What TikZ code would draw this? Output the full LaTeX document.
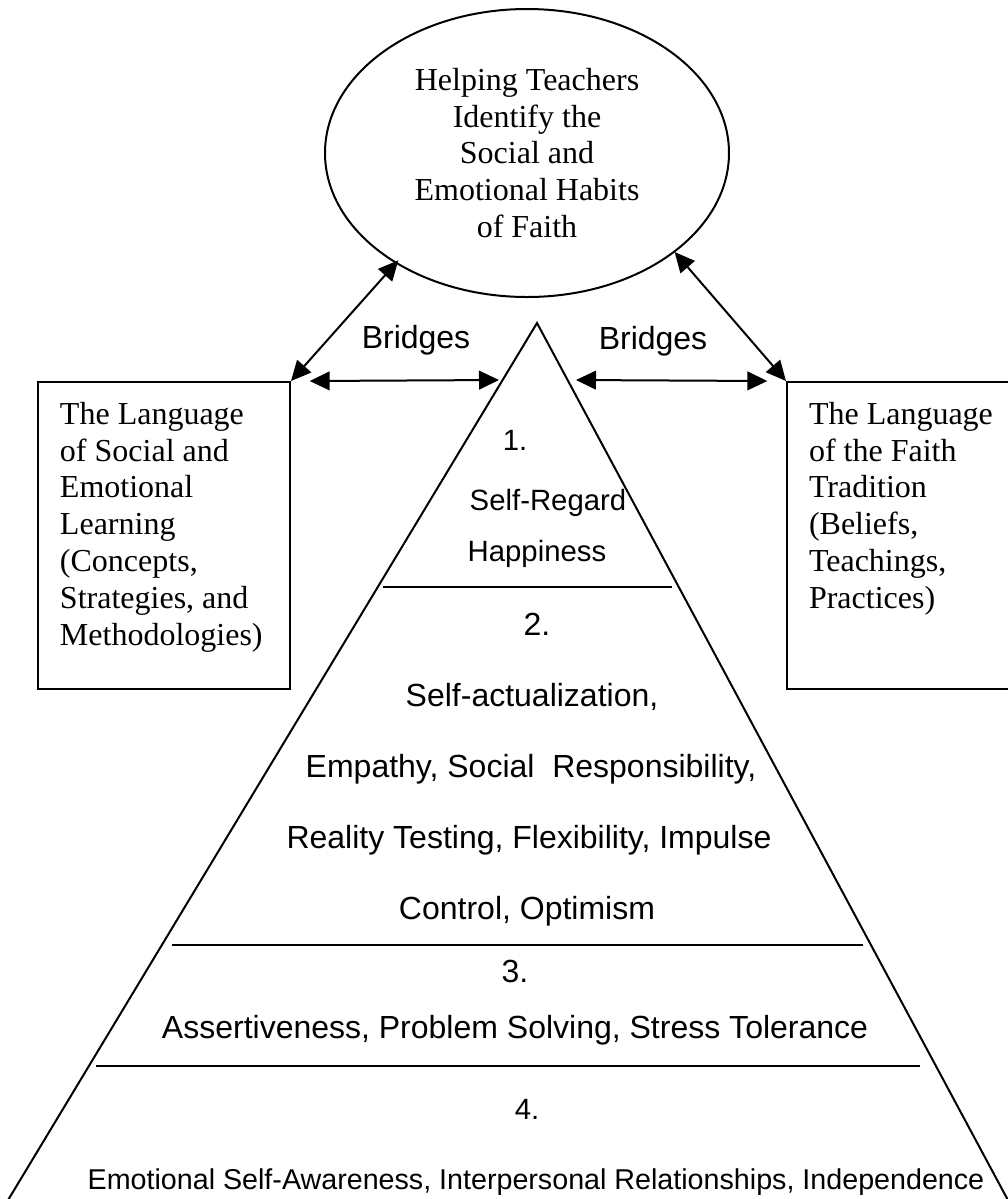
\documentclass[tikz,border=0pt]{standalone}
\usepackage{fontspec}
\setmainfont{Liberation Serif}
\newfontfamily\arialfont{Liberation Sans}
\usetikzlibrary{shapes.geometric,arrows.meta}

\tikzset{
	lang/.style={draw, anchor=north west, inner xsep=8.25pt, inner ysep=7.5pt, font=\fontsize{12}{13.8}\selectfont},
	level/.style={anchor=base, font=\arialfont\fontsize{11}{13}\selectfont},
	biglevel/.style={anchor=base, font=\arialfont\fontsize{12}{13.8}\selectfont},
	bridge/.style={anchor=base, font=\arialfont\fontsize{12}{13.8}\selectfont},
}
\newcommand{\langtext}[1]{\parbox[c][100pt][t]{78pt}{\raggedright #1}}

\begin{document}
\begin{tikzpicture}[x=0.375pt, y=-0.375pt, line width=0.75pt, >={Triangle[length=7.5pt,width=7pt]}]
	\useasboundingbox (0,0) rectangle (1008,1199);
	\clip (0,0) rectangle (1008,1199);

	% goal at the top
	\node[ellipse, draw, minimum width=151.5pt, minimum height=108pt, align=center, font=\fontsize{12}{13.8}\selectfont] (goal) at (527,153)
		{Helping Teachers\\ Identify the\\ Social and\\ Emotional Habits\\ of Faith};

	% the two languages
	\node[lang] (sel) at (37,381) {\langtext{The Language\\ of Social and\\ Emotional\\ Learning\\ (Concepts,\\ Strategies, and\\ Methodologies)}};
	\node[lang] (faith) at (786,381) {\langtext{The Language\\ of the Faith\\ Tradition\\ (Beliefs,\\ Teachings,\\ Practices)}};

	% pyramid
	\coordinate (apex) at (537,323);
	\coordinate (edgeL) at (499,380);
	\coordinate (edgeR) at (576,380);
	\draw (-10,1230) -- (apex) -- (1024,1230);
	\draw (383,587) -- (672,587);
	\draw (172,945) -- (863,945);
	\draw (96,1066) -- (920,1066);

	\node[level] (one) at (515,450) {1.};
	\node[level] (regard) at (548,510) {Self-Regard};
	\node[level] (happy) at (537,561) {Happiness};
	\node[biglevel] (two) at (537,635) {2.};
	\node[biglevel] (actual) at (532,706) {Self-actualization,};
	\node[biglevel] (empathy) at (531,777) {Empathy, Social~ Responsibility,};
	\node[biglevel] (reality) at (529,848) {Reality Testing, Flexibility, Impulse};
	\node[biglevel] (control) at (527,919) {Control, Optimism};
	\node[biglevel] (three) at (515,982) {3.};
	\node[biglevel] (assert) at (515,1038) {Assertiveness, Problem Solving, Stress Tolerance};
	\node[level] (four) at (527,1119) {4.};
	\node[level, font=\arialfont\fontsize{10.75}{13}\selectfont] (aware) at (536,1189) {Emotional Self-Awareness, Interpersonal Relationships, Independence};

	% bridges
	\draw[<->] (sel.north east) -- ([shift={(-4pt,4pt)}]goal.225);
	\draw[<->] ([shift={(4pt,3pt)}]goal.322) -- (faith.north west);
	\draw[<->] ([xshift=7pt]sel.north east) -- (edgeL);
	\draw[<->] (edgeR) -- ([xshift=-7pt]faith.north west);
	\node[bridge] (bridgeL) at (416,348) {Bridges};
	\node[bridge] (bridgeR) at (653,349) {Bridges};
\end{tikzpicture}
\end{document}
